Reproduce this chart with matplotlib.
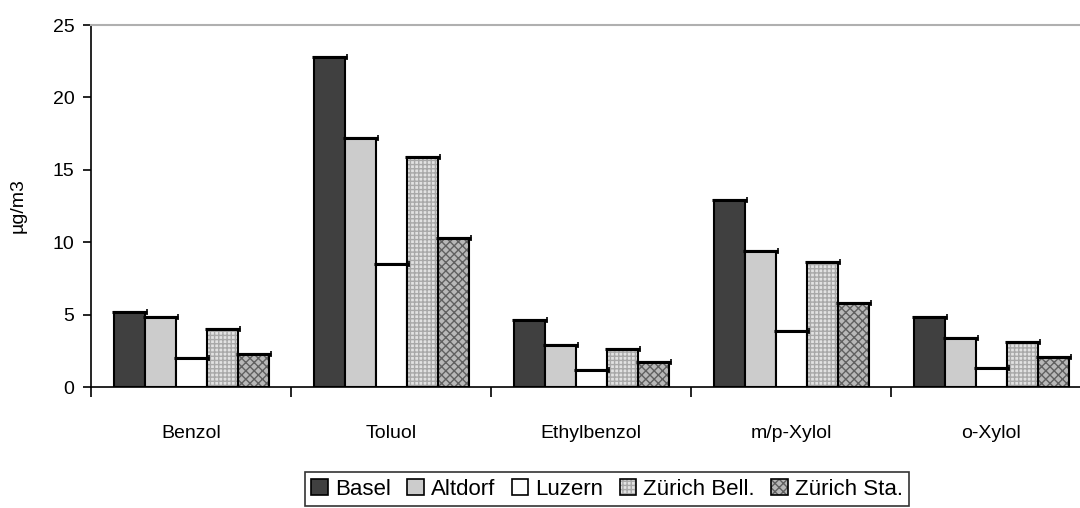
import matplotlib
matplotlib.use("Agg")
import matplotlib.pyplot as plt
import numpy as np
from matplotlib.patches import Patch
from matplotlib.legend_handler import HandlerTuple

categories = ["Benzol", "Toluol", "Ethylbenzol", "m/p-Xylol", "o-Xylol"]
series_names = ["Basel", "Altdorf", "Luzern", "Zürich Bell.", "Zürich Sta."]
basel = [5.2, 22.8, 4.6, 12.9, 4.8]
altdorf = [4.8, 17.2, 2.9, 9.4, 3.4]
luzern = [2.0, 8.5, 1.2, 3.9, 1.3]
zurich_bell = [4.0, 15.9, 2.6, 8.6, 3.1]
zurich_sta = [2.3, 10.3, 1.7, 5.8, 2.1]
y_ticks = [0, 5, 10, 15, 20, 25]
y_label = "µg/m3"

series = [basel, altdorf, luzern, zurich_bell, zurich_sta]
faces = ["#404040", "#cccccc", "#ffffff", "#e2e2e2", "#b8b8b8"]
hatches = [None, None, None, "++++", "xxxx"]
hatch_cols = [None, None, None, "#a8a8a8", "#606060"]

plt.rcParams["font.family"] = ["Liberation Sans", "DejaVu Sans"]
fig = plt.figure(figsize=(10.8, 5.08), dpi=100)
ax = fig.add_axes([91 / 1080, 121 / 508, 1000 / 1080, 362 / 508])

x = np.arange(len(categories))
w = 0.155
offsets = [-2 * w, -w, 0, w, 2 * w]
handles = []
for vals, off, fc, h, hc, name in zip(series, offsets, faces, hatches, hatch_cols, series_names):
    xs = x + off
    if h:
        ax.bar(xs, vals, w, color=fc, hatch=h, edgecolor=hc, linewidth=0, zorder=2)
        ax.bar(xs, vals, w, fill=False, edgecolor="black", linewidth=1.5, zorder=3)
        handles.append((Patch(facecolor=fc, hatch=h, edgecolor=hc, linewidth=0),
                        Patch(fill=False, edgecolor="black", linewidth=1.2)))
    else:
        ax.bar(xs, vals, w, color=fc, edgecolor="black", linewidth=1.5, zorder=3)
        handles.append(Patch(facecolor=fc, edgecolor="black", linewidth=1.2))
    ax.hlines(vals, xs - w / 2 - 0.01, xs + w / 2 + 0.01, color="black", lw=2.2, zorder=4)
    ax.plot(xs + w / 2 + 0.01, vals, ls="none", marker="|", ms=5, mew=1.2, color="black", zorder=4)

ax.set_xlim(-0.5, 4.5)
ax.set_ylim(0, 25)
ax.set_yticks(y_ticks)
ax.tick_params(axis="y", direction="out", length=6, width=1.2, labelsize=14, pad=6)
ax.set_xticks(np.arange(-0.5, 4.6, 1.0))
ax.set_xticklabels([])
ax.tick_params(axis="x", which="major", direction="out", length=7, width=1.2)
ax.set_xticks(x, minor=True)
ax.set_xticklabels(categories, minor=True, fontsize=14)
ax.tick_params(axis="x", which="minor", length=0, pad=27)
ax.set_ylabel(y_label, fontsize=14, labelpad=19)

ax.spines["right"].set_visible(False)
ax.spines["top"].set_color("#b0b0b0")
ax.spines["top"].set_linewidth(1.5)
ax.spines["left"].set_linewidth(1.2)
ax.spines["bottom"].set_linewidth(1.2)

leg = fig.legend(handles, series_names, loc="upper center", bbox_to_anchor=(607 / 1080, 1 - 472 / 508),
                 ncol=5, frameon=True, fancybox=False, edgecolor="black", fontsize=16,
                 handlelength=0.75, handleheight=0.75, handletextpad=0.3, columnspacing=0.75,
                 borderpad=0.3, borderaxespad=0,
                 handler_map={tuple: HandlerTuple(ndivide=1, pad=0)})
leg.get_frame().set_linewidth(1.2)

fig.savefig("out.png", dpi=100)
